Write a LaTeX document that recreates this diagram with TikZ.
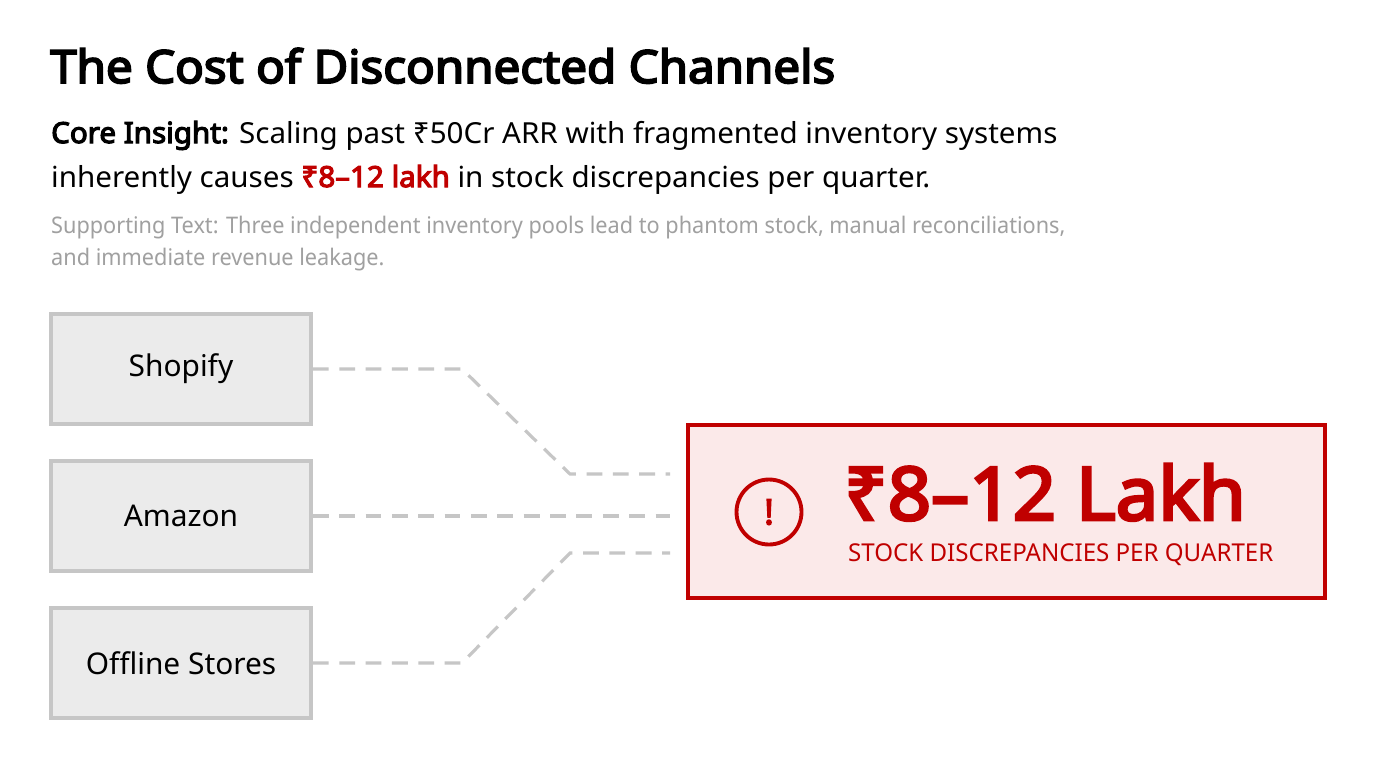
\documentclass[tikz,border=0pt]{standalone}
\usepackage{fontspec}
\setmainfont{Noto Sans}[BoldFont={Noto Sans}, BoldFeatures={FakeBold=4}]
\usetikzlibrary{positioning,calc}
\definecolor{alertred}{HTML}{C00000}
\definecolor{alertfill}{HTML}{FBE9E9}
\definecolor{chanfill}{HTML}{EBEBEB}
\definecolor{chanline}{HTML}{C6C6C6}
\definecolor{subgray}{HTML}{A0A0A0}
\tikzset{
  chanbox/.style={draw=chanline, line width=2.2pt, fill=chanfill, minimum width=5.2cm, minimum height=2.2cm, font=\fontsize{17}{20}\selectfont},
  link/.style={draw=chanline, line width=1.8pt, dash pattern=on 9pt off 6pt},
}
\begin{document}
\begin{tikzpicture}[x=0.02cm,y=-0.02cm]
\useasboundingbox[fill=white] (0,0) rectangle (1376,768);
% header
\node[anchor=base west, font=\bfseries\fontsize{26}{30}\selectfont] (title) at (44,83) {\addfontfeature{FakeStretch=1.04}The Cost of Disconnected Channels};
\node[anchor=base west, font=\fontsize{16.5}{20}\selectfont] (core1) at (45,143) {\addfontfeature{FakeStretch=1.02}\textbf{Core Insight:} Scaling past ₹50Cr ARR with fragmented inventory systems};
\node[anchor=base west, font=\fontsize{16.5}{20}\selectfont] (core2) at (45,187) {\addfontfeature{FakeStretch=1.02}inherently causes \textbf{\color{alertred}₹8–12 lakh} in stock discrepancies per quarter.};
\node[anchor=base west, text=subgray, font=\fontsize{13}{16}\selectfont] (sup1) at (45,233) {\addfontfeature{FakeStretch=0.95}Supporting Text: Three independent inventory pools lead to phantom stock, manual reconciliations,};
\node[anchor=base west, text=subgray, font=\fontsize{13}{16}\selectfont] (sup2) at (45,265) {\addfontfeature{FakeStretch=0.95}and immediate revenue leakage.};
% channels
\node[chanbox] (shopify) at (181,369) {Shopify};
\node[chanbox] (amazon) at (181,516) {Amazon};
\node[chanbox] (offline) at (181,663) {Offline Stores};
% alert
\node[draw=alertred, line width=2.2pt, fill=alertfill, minimum width=12.74cm, minimum height=3.46cm] (alert) at (1006.5,511.5) {};
\node[circle, draw=alertred, line width=2.2pt, minimum size=1.3cm, text=alertred, font=\bfseries\fontsize{20}{24}\selectfont, inner sep=0pt] (icon) at (769,512) {!};
\node[anchor=base west, text=alertred, font=\bfseries\fontsize{42}{46}\selectfont] (amount) at (838,520) {\addfontfeature{FakeStretch=1.03}₹8–12 Lakh};
\node[anchor=base west, text=alertred, font=\fontsize{14}{15}\selectfont] (label) at (842,561) {\addfontfeature{FakeStretch=0.98}STOCK DISCREPANCIES PER QUARTER};
\draw[link] (shopify.east) -- (462,369) -- (570,474) -- (670,474);
\draw[link] (amazon.east) -- (670,516);
\draw[link] (offline.east) -- (462,663) -- (570,553) -- (670,553);
\end{tikzpicture}
\end{document}
